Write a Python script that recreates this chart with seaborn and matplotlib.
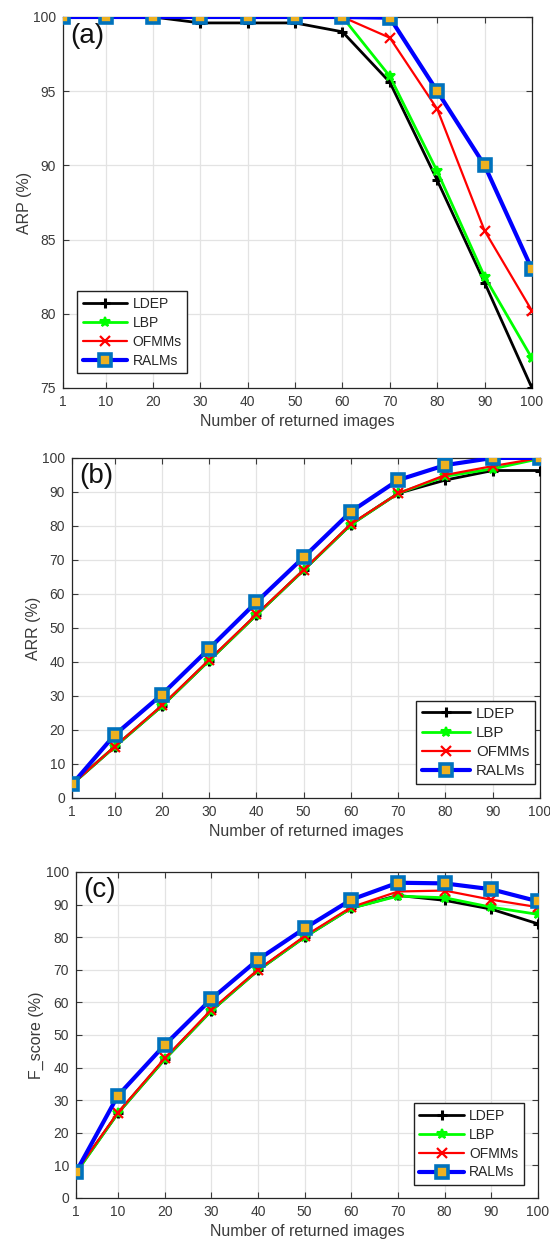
import numpy as np
import pandas as pd
import matplotlib
matplotlib.use("Agg")
import matplotlib.pyplot as plt
import seaborn as sns

# ---------------- data ----------------
x_vals = [1, 10, 20, 30, 40, 50, 60, 70, 80, 90, 100]
methods = ["LDEP", "LBP", "OFMMs", "RALMs"]

arp_ldep = [100, 100, 100, 99.6, 99.6, 99.6, 99.0, 95.6, 89.0, 82.1, 75.0]
arp_lbp = [100, 100, 100, 100, 100, 100, 100, 96.0, 89.6, 82.5, 77.0]
arp_ofmms = [100, 100, 100, 100, 100, 100, 100, 98.6, 93.8, 85.6, 80.2]
arp_ralms = [100, 100, 100, 100, 100, 100, 100, 99.95, 95.0, 90.0, 83.0]

arr_ldep = [4.0, 15.0, 27.0, 40.4, 53.8, 67.0, 80.4, 89.6, 93.5, 96.3, 96.3]
arr_lbp = [4.0, 15.0, 27.0, 40.4, 53.8, 67.0, 80.4, 89.6, 94.6, 96.8, 99.8]
arr_ofmms = [4.0, 15.1, 27.2, 40.6, 54.0, 67.1, 80.6, 89.6, 95.0, 97.6, 100]
arr_ralms = [4.0, 18.5, 30.4, 43.9, 57.6, 70.8, 84.2, 93.5, 97.9, 100, 100]

f_ldep = [7.8, 26.0, 42.5, 57.4, 69.8, 80.0, 88.9, 92.8, 91.3, 88.6, 84.1]
f_lbp = [7.6, 26.0, 42.5, 57.4, 69.8, 80.0, 88.9, 92.6, 92.1, 89.2, 87.0]
f_ofmms = [8.0, 26.2, 42.8, 57.7, 70.0, 80.3, 89.2, 94.0, 94.3, 91.5, 89.2]
f_ralms = [7.9, 31.4, 46.9, 61.0, 73.1, 82.7, 91.5, 96.7, 96.5, 94.7, 91.0]

ylabels = ["ARP (%)", "ARR (%)", "F_score (%)"]
panel_tags = ["(a)", "(b)", "(c)"]
xlabel = "Number of returned images"

# ---------------- style ----------------
sns.set_style("ticks")
plt.rcParams["font.family"] = ["Liberation Sans", "DejaVu Sans"]
plt.rcParams["xtick.direction"] = "in"
plt.rcParams["ytick.direction"] = "in"

text_col = "#3a3a3a"

styles = {
    "LDEP": dict(color="black", marker="+", lw=2.0, ms=7, mew=2.2, mfc="black", mec="black"),
    "LBP": dict(color="#00ff00", marker="*", lw=2.0, ms=7, mew=1.5, mfc="#00ff00", mec="#00ff00"),
    "OFMMs": dict(color="red", marker="x", lw=1.6, ms=6.5, mew=1.6, mfc="red", mec="red"),
    "RALMs": dict(color="blue", marker="s", lw=3.0, ms=8.5, mew=2.6, mfc="#EDB120", mec="#0072BD"),
}

panels = [
    dict(data=[arp_ldep, arp_lbp, arp_ofmms, arp_ralms], ylim=(75, 100),
         yticks=[75, 80, 85, 90, 95, 100],
         rect=[0.1145, 0.6871, 0.8527, 0.2992],
         legend_loc=("lower left", (0.03, 0.04)), legend_fs=10),
    dict(data=[arr_ldep, arr_lbp, arr_ofmms, arr_ralms], ylim=(0, 100),
         yticks=list(range(0, 101, 10)),
         rect=[0.1309, 0.3565, 0.851, 0.2742],
         legend_loc=("lower right", (0.99, 0.04)), legend_fs=10.8),
    dict(data=[f_ldep, f_lbp, f_ofmms, f_ralms], ylim=(0, 100),
         yticks=list(range(0, 101, 10)),
         rect=[0.138, 0.0339, 0.84, 0.2629],
         legend_loc=("lower right", (0.97, 0.04)), legend_fs=10),
]

fig = plt.figure(figsize=(5.5, 12.4), dpi=100)

for i, p in enumerate(panels):
    ax = fig.add_axes(p["rect"])
    frames = []
    for m, vals in zip(methods, p["data"]):
        frames.append(pd.DataFrame({"x": x_vals, "y": vals, "method": m}))
    df = pd.concat(frames, ignore_index=True)
    for m in methods:
        sub = df[df["method"] == m]
        st = styles[m]
        sns.lineplot(data=sub, x="x", y="y", ax=ax, label=m, color=st["color"],
                     marker=st["marker"], linewidth=st["lw"], markersize=st["ms"],
                     markeredgewidth=st["mew"], markerfacecolor=st["mfc"],
                     markeredgecolor=st["mec"], zorder=3 + methods.index(m))
    ax.set_xlim(1, 100)
    ax.set_ylim(*p["ylim"])
    ax.set_xticks(x_vals)
    ax.set_yticks(p["yticks"])
    ax.grid(True, color="#e3e3e3", linewidth=0.9)
    ax.set_axisbelow(True)
    ax.tick_params(axis="both", which="both", top=True, right=True, labelsize=10,
                   colors="#3a3a3a", length=4, width=0.8, pad=5)
    for sp in ax.spines.values():
        sp.set_color("#262626")
        sp.set_linewidth(0.9)
    ax.set_xlabel(xlabel, fontsize=11.5, color=text_col, labelpad=4)
    ax.set_ylabel(ylabels[i], fontsize=11.5, color=text_col, labelpad=1)
    ax.text(0.015, 0.985, panel_tags[i], transform=ax.transAxes, ha="left", va="top",
            fontsize=20, color="#111111", zorder=10)
    loc, anchor = p["legend_loc"]
    leg = ax.legend(loc=loc, bbox_to_anchor=anchor, fontsize=p["legend_fs"], frameon=True,
                    fancybox=False, edgecolor="#222222", framealpha=1,
                    handlelength=3.2, borderpad=0.4, labelspacing=0.35,
                    handletextpad=0.4, borderaxespad=0.0)
    leg.get_frame().set_linewidth(1.0)

fig.savefig("out.png", dpi=100)
